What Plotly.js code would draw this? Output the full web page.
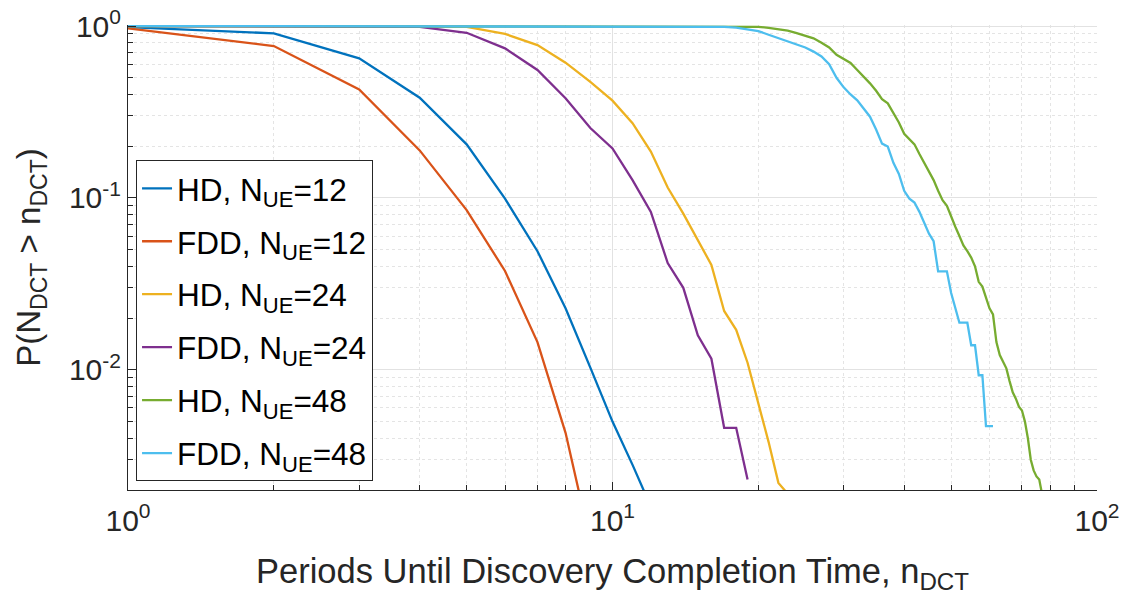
<!DOCTYPE html>
<html>
<head>
<meta charset="utf-8">
<script src="https://cdn.plot.ly/plotly-3.0.1.min.js"></script>
<style>html,body{margin:0;padding:0;background:#fff;}#chart{width:1126px;height:605px;}</style>
</head>
<body>
<div id="chart"></div>
<script>
// ---- data ----
const seriesNames = [
  'HD, N<sub>UE</sub>=12', 'FDD, N<sub>UE</sub>=12',
  'HD, N<sub>UE</sub>=24', 'FDD, N<sub>UE</sub>=24',
  'HD, N<sub>UE</sub>=48', 'FDD, N<sub>UE</sub>=48'
];
const seriesColors = ['#0072BD', '#D95319', '#EDB120', '#7E2F8E', '#77AC30', '#4DBEEE'];

const nHD12 = [1, 2, 3, 4, 5, 6, 7, 8, 9, 10, 11, 12];
const pHD12 = [0.985, 0.907, 0.649, 0.383, 0.205, 0.099, 0.049, 0.0228, 0.0103, 0.0050, 0.0028, 0.0016];

const nFDD12 = [1, 2, 3, 4, 5, 6, 7, 8, 9];
const pFDD12 = [0.97, 0.765, 0.428, 0.189, 0.085, 0.0376, 0.0145, 0.0043, 0.001];

const nHD24 = [1, 2, 3, 4, 5, 6, 7, 8, 9, 10, 11, 12, 13, 14, 15, 16, 17, 18, 19, 20, 21, 22, 23];
const pHD24 = [1, 1, 1, 1, 0.99, 0.9, 0.775, 0.612, 0.474, 0.368, 0.272, 0.186, 0.115, 0.081, 0.0574,
  0.0408, 0.022, 0.0171, 0.011, 0.0065, 0.0038, 0.0022, 0.0019];

const nFDD24 = [1, 2, 3, 4, 5, 6, 7, 8, 9, 10, 11, 12, 13, 14, 15, 16, 17, 18, 19];
const pFDD24 = [1, 1, 1, 0.99, 0.914, 0.742, 0.555, 0.38, 0.255, 0.194, 0.127, 0.083, 0.0418, 0.030,
  0.0159, 0.0116, 0.0046, 0.0046, 0.0023];

const nHD48 = [1, 2, 3, 4, 5, 6, 7, 8, 9, 10, 11, 12, 13, 14, 15, 16, 17, 18, 19, 20,
  21, 22, 23, 24, 25, 26, 27, 28, 29, 30, 31, 32, 33, 34, 35, 36, 37, 38, 39, 40,
  41, 42, 43, 44, 45, 46, 47, 48, 49, 50, 51, 52, 53, 54, 55, 56, 57, 58, 59, 60,
  61, 62, 63, 64, 65, 66, 67, 68, 69, 70, 71, 72, 73, 74, 75, 76, 77];
const pHD48 = [1, 1, 1, 1, 1, 1, 1, 1, 1, 1, 1, 1, 1, 1, 1, 1, 1, 1, 0.998, 0.99,
  0.975, 0.96, 0.94, 0.91, 0.88, 0.848, 0.80, 0.75, 0.68, 0.64, 0.61, 0.555, 0.51, 0.464, 0.42, 0.375, 0.355, 0.31, 0.275, 0.236,
  0.22, 0.205, 0.18, 0.16, 0.14, 0.127, 0.11, 0.097, 0.09, 0.077, 0.068, 0.06, 0.053, 0.049, 0.045, 0.040, 0.0325, 0.0305, 0.026, 0.0228,
  0.021, 0.0145, 0.0122, 0.0112, 0.0102, 0.0086, 0.0074, 0.0068, 0.0061, 0.0058, 0.0050, 0.0040, 0.0030, 0.0026, 0.0024, 0.0023, 0.0019];

const nFDD48 = [1, 2, 3, 4, 5, 6, 7, 8, 9, 10, 11, 12, 13, 14, 15, 16, 17, 18, 19, 20,
  21, 22, 23, 24, 25, 26, 27, 28, 29, 30, 31, 32, 33, 34, 35, 36, 37, 38, 39, 40,
  41, 42, 43, 44, 45, 46, 47, 48, 49, 50, 51, 52, 53, 54, 55, 56, 57, 58, 59, 60, 61];
const pFDD48 = [1, 1, 1, 1, 1, 1, 1, 1, 1, 1, 1, 1, 1, 1, 1, 0.997, 0.99, 0.98, 0.96, 0.935,
  0.89, 0.85, 0.81, 0.78, 0.75, 0.71, 0.665, 0.60, 0.50, 0.44, 0.40, 0.37, 0.33, 0.297, 0.25, 0.207, 0.199, 0.16, 0.138, 0.11,
  0.099, 0.094, 0.083, 0.071, 0.062, 0.056, 0.0374, 0.0374, 0.0374, 0.028, 0.023, 0.0188, 0.0188, 0.0188, 0.0139, 0.0139, 0.0093, 0.0093, 0.0047, 0.0047, 0.0047];

const xTickVals = [1, 10, 100];
const xTickText = ['10<sup>0</sup>', '10<sup>1</sup>', '10<sup>2</sup>'];
const yTickVals = [0.01, 0.1, 1];
const yTickText = ['10<sup>-2</sup>', '10<sup>-1</sup>', '10<sup>0</sup>'];

const xTitle = 'Periods Until Discovery Completion Time, n<sub>DCT</sub>';
const yTitle = 'P(N<sub>DCT</sub> &gt; n<sub>DCT</sub>)';

// ---- build ----
const xs = [nHD12, nFDD12, nHD24, nFDD24, nHD48, nFDD48];
const ys = [pHD12, pFDD12, pHD24, pFDD24, pHD48, pFDD48];

const traces = xs.map((x, i) => ({
  x: x, y: ys[i], type: 'scatter', mode: 'lines',
  name: seriesNames[i], legendgroup: 'g' + i,
  line: {color: seriesColors[i], width: 2.3},
  hoverinfo: 'skip'
}));

function minorTicks(d0, d1) {
  const out = [];
  for (let d = d0; d < d1; d++) for (let k = 2; k <= 9; k++) out.push(k * Math.pow(10, d));
  return out;
}

const FONT = 'Liberation Sans, Arial, Helvetica, sans-serif';
const AX = '#262626';

const layout = {
  width: 1126, height: 605,
  margin: {l: 128, r: 29, t: 25, b: 115, pad: 0},
  paper_bgcolor: '#fff', plot_bgcolor: '#fff',
  font: {family: FONT, color: AX},
  showlegend: true,
  legend: {
    x: 0.0083, y: 0.709, xanchor: 'left', yanchor: 'top',
    bgcolor: '#fff', bordercolor: AX, borderwidth: 1,
    font: {family: FONT, size: 31.5, color: '#000'},
    tracegroupgap: 9
  },
  xaxis: {
    type: 'log', range: [0, 2], autorange: false,
    tickmode: 'array', tickvals: xTickVals, ticktext: xTickText,
    ticks: 'inside', ticklen: 8, tickwidth: 1, tickcolor: AX,
    ticklabelstandoff: 4,
    showline: true, linecolor: AX, linewidth: 1, mirror: false,
    showgrid: true, gridcolor: '#e2e2e2', gridwidth: 1, zeroline: false,
    tickfont: {family: FONT, size: 30, color: AX},
    minor: {tickmode: 'array', tickvals: minorTicks(0, 2), ticks: 'inside', ticklen: 5, tickcolor: AX,
      showgrid: true, gridcolor: '#e4e4e4', griddash: 'dot', gridwidth: 1},
    title: {text: xTitle, font: {family: FONT, size: 34.5, color: AX}, standoff: 22}
  },
  yaxis: {
    type: 'log', range: [Math.log10(0.002), 0.006], autorange: false,
    tickmode: 'array', tickvals: yTickVals, ticktext: yTickText,
    ticks: 'inside', ticklen: 8, tickwidth: 1, tickcolor: AX,
    showline: true, linecolor: AX, linewidth: 1, mirror: false,
    showgrid: true, gridcolor: '#e2e2e2', gridwidth: 1, zeroline: false,
    tickfont: {family: FONT, size: 30, color: AX},
    minor: {tickmode: 'array', tickvals: minorTicks(-3, 0).filter(v => v >= 0.002), ticks: 'inside', ticklen: 5, tickcolor: AX,
      showgrid: true, gridcolor: '#e4e4e4', griddash: 'dot', gridwidth: 1},
    title: {text: yTitle, font: {family: FONT, size: 33, color: AX}, standoff: 18}
  }
};

Plotly.newPlot('chart', traces, layout, {displayModeBar: false, staticPlot: true});
</script>
</body>
</html>
